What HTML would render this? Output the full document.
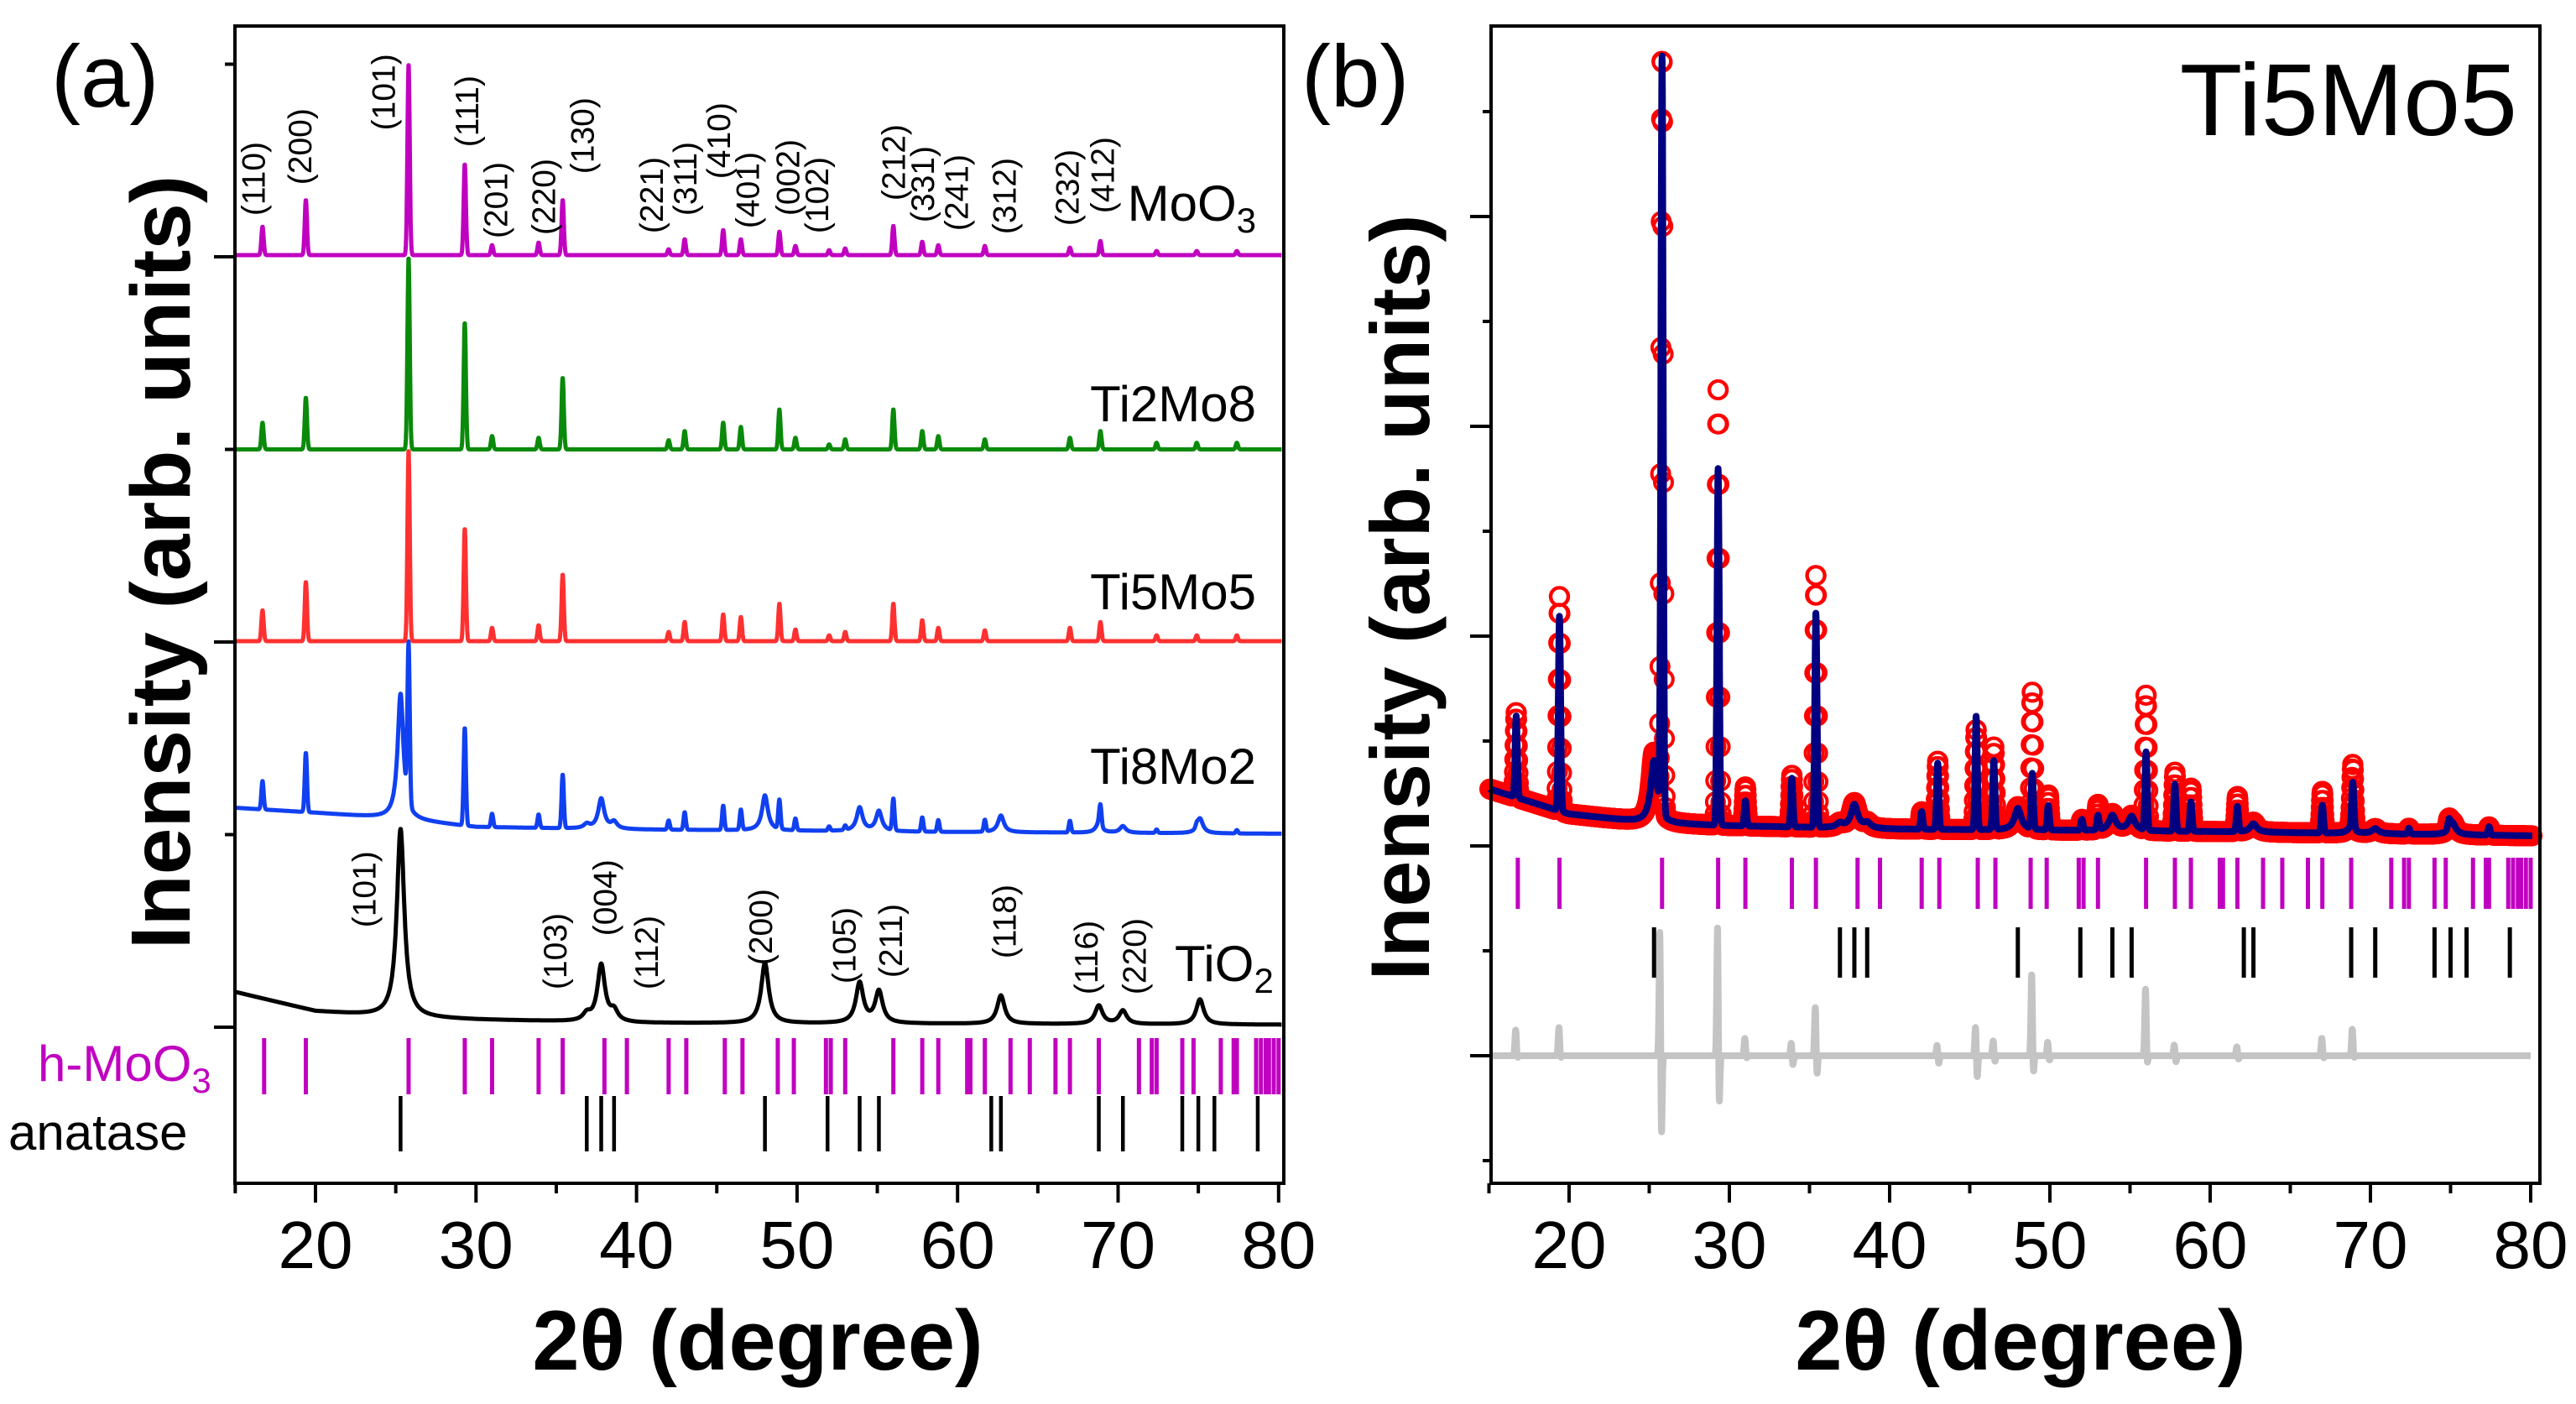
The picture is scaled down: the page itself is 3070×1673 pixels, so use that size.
<!DOCTYPE html>
<html><head><meta charset="utf-8"><style>
html,body{margin:0;padding:0;background:#fff;}
svg{display:block;font-family:"Liberation Sans",Arial,sans-serif;}
</style></head><body>
<svg id="fig" width="3070" height="1673" viewBox="0 0 3070 1673" xmlns="http://www.w3.org/2000/svg">
<rect x="0" y="0" width="3070" height="1673" fill="#fff"/>
<g id="pa"></g>
<g id="pb"></g>
</svg>
<script>
// ---------- DATA ----------
const moPeaks = [16.7,19.4,25.8,29.3,31.0,33.9,35.4,42.0,43.0,45.4,46.5,48.9,49.9,52.0,53.0,56.0,57.8,58.8,61.7,67.0,68.9,72.4,74.9,77.4];
const anPeaks = [25.3,36.9,37.8,38.6,48.0,53.9,55.1,62.7,68.8,70.3,75.1];
const hMoO3Ticks = [16.8,19.4,25.8,29.3,31.0,33.9,35.4,38.0,39.4,42.0,43.1,45.5,46.6,48.8,49.8,51.8,52.1,53.0,56.0,57.8,58.8,60.6,60.8,61.7,63.3,64.5,66.1,67.0,68.8,71.3,72.1,72.4,74.0,74.7,76.4,77.2,77.4,78.6,78.9,79.2,79.4,79.7,80.0];
const anataseTicks = [25.3,36.9,37.8,38.6,48.0,51.9,53.9,55.1,62.1,62.7,68.8,70.3,74.0,75.0,76.0,78.7];
const xTickLabels = [20,30,40,50,60,70,80];
const xMinorTicks = [15,25,35,45,55,65,75];

// panel (a) series (arb. units, 230 per tick)
const moO3Heights   = [34,66,229,109,12,15,66,7,19,30,19,28,11,6,8,35,16,12,11,9,17,5,5,5];
const ti2Mo8Heights = [32,62,230,152,16,14,86,11,22,32,27,48,14,6,12,48,22,16,12,14,22,8,8,8];
const ti5Mo5Heights = [37,71,229,135,16,19,80,11,23,32,29,45,14,7,11,45,25,16,13,16,23,7,7,7];
const ti8Mo2Heights = [34,71,190,117,16,16,64,11,21,29,24,35,14,5,5,38,17,14,14,14,24,4,4,4];
const ti8Mo2Anatase = [150,5,36,8,42,28,24,20,12,8,18];
const tio2Anatase   = [225,8,68,12,72,48,38,34,22,16,30];
const moO3Offset = 922, ti2Mo8Offset = 690, ti5Mo5Offset = 461;
const bgKnotsX = [15,20,25,30,40,60,80];
const ti8Mo2Bg = [262,256,249,239,236,233,231];
const tio2Bg   = [42,19,12,9,5,4,3];

// panel (b) Rietveld
const calcHeights = [97,232,900,425,30,58,255,21,79,135,82,66,29,13,17,93,56,35,30,33,54,7,10,10];
const obsHeights  = [102,258,900,524,47,62,303,21,82,120,99,164,42,13,30,162,71,52,42,50,75,7,10,10];
const calcAnatase = [75,5,28,6,26,18,17,10,8,6,15];
const obsAnatase  = [85,5,30,6,28,20,18,12,9,6,16];
const rietBg = [318,288,277,274,270,267,262];
const resPos  = [16.7,19.4,25.7,29.3,31.0,33.9,35.4,43.0,45.4,46.5,48.9,49.9,56.0,57.8,61.7,67.0,68.9];
const resUp   = [32,35,175,172,22,18,65,15,41,20,105,18,84,15,12,22,33];
const resDown = [5,5,124,83,5,14,32,12,33,10,33,8,17,10,6,5,5];

const hklLabelsA = ["(110)","(200)","(101)","(111)","(201)","(220)","(130)","(221)","(311)","(410)","(401)","(002)","(102)","(212)","(331)","(241)","(312)","(232)","(412)"];
const hklPosA = [16.1,19.0,24.2,29.4,31.2,34.2,36.6,40.9,43.0,45.1,46.9,49.4,51.2,56.0,57.8,59.9,62.9,66.8,69.0];
const hklLevelA = [969,1006,1071,1051,942,946,1019,948,969,1013,954,969,948,987,961,951,947,957,972];
const tioLabels = ["(101)","(103)","(004)","(112)","(200)","(105)","(211)","(118)","(116)","(220)"];
const tioPos = [23.0,34.9,38.0,40.6,47.7,52.9,55.8,62.9,68.0,71.0];
const tioLevel = [119,45,109,45,74,52,59,82,39,39];

// ---------- HELPERS ----------
const NS = "http://www.w3.org/2000/svg";
function mk(parent, tag, attrs, text){
  const e = document.createElementNS(NS, tag);
  for (const k in attrs) e.setAttribute(k, attrs[k]);
  if (text !== undefined) e.textContent = text;
  parent.appendChild(e); return e;
}
const xA = d => 376 + (d-20)*19.13;
const xB = d => 1870 + (d-20)*19.1;
const yA = c => 1224 - c*229.5/230;
const yB = c => 1258 - c*250/250;
function interp(xs, ys, x){
  if (x <= xs[0]) return ys[0];
  for (let i=1;i<xs.length;i++) if (x <= xs[i]) { const t=(x-xs[i-1])/(xs[i]-xs[i-1]); return ys[i-1]+t*(ys[i]-ys[i-1]); }
  return ys[ys.length-1];
}
const gauss = (x,p,s) => Math.exp(-0.5*((x-p)/s)*((x-p)/s));
const lor = (x,p,w) => 1/(1+((x-p)/w)*((x-p)/w));
function profile(x, sharpH, broadH, sig, hw){
  let v = 0;
  if (sharpH) for (let i=0;i<moPeaks.length;i++) if (Math.abs(x-moPeaks[i])<0.6) v += sharpH[i]*gauss(x,moPeaks[i],sig);
  if (broadH) for (let i=0;i<anPeaks.length;i++) v += broadH[i]*lor(x,anPeaks[i],hw);
  return v;
}
function pathFrom(xf, yf, fn, x0, x1, step){
  let d = "";
  for (let x=x0; x<=x1+1e-9; x+=step){ d += (d?"L":"M")+xf(x).toFixed(1)+","+yf(fn(x)).toFixed(1); }
  return d;
}

// ---------- PANEL A ----------
const pa = document.getElementById('pa');
const series = [
  {name:"moo3-trace", color:"#c000c0", fn:x=>moO3Offset+profile(x,moO3Heights,null,0.07,0.3)},
  {name:"ti2mo8-trace", color:"#0a8a0a", fn:x=>ti2Mo8Offset+profile(x,ti2Mo8Heights,null,0.07,0.3)},
  {name:"ti5mo5-trace", color:"#ff3030", fn:x=>ti5Mo5Offset+profile(x,ti5Mo5Heights,null,0.07,0.3)},
  {name:"ti8mo2-trace", color:"#1040f0", fn:x=>interp(bgKnotsX,ti8Mo2Bg,x)+profile(x,ti8Mo2Heights,ti8Mo2Anatase,0.07,0.22)},
  {name:"tio2-trace", color:"#000000", fn:x=>interp(bgKnotsX,tio2Bg,x)+profile(x,null,tio2Anatase,0.07,0.28)}
];
for (let s=series.length-1; s>=0; s--){
  const p = mk(pa,'path',{d:pathFrom(xA,yA,series[s].fn,15.05,80.2,0.02),fill:"none",stroke:series[s].color,"stroke-width":5,"stroke-linejoin":"round"});
  
  
}
hMoO3Ticks.forEach(d=>{
  const l = mk(pa,'line',{x1:xA(d),x2:xA(d),y1:1237,y2:1304,stroke:"#c000c0","stroke-width":5});
  
  
});
anataseTicks.forEach(d=>{
  const l = mk(pa,'line',{x1:xA(d),x2:xA(d),y1:1306,y2:1372,stroke:"#000","stroke-width":4.5});
  
  
});
function rotLabel(parent, xf, d, yBottom, txt, name){
  const x = xf(d) + 14;
  const t = mk(parent,'text',{x:x,y:yBottom,transform:`rotate(-90 ${x} ${yBottom})`,"font-size":39,fill:"#000"},txt);
  
  
}
hklLabelsA.forEach((t,i)=>rotLabel(pa,xA,hklPosA[i],yA(hklLevelA[i]),t,'moo3-hkl-label'));
tioLabels.forEach((t,i)=>rotLabel(pa,xA,tioPos[i],yA(tioLevel[i]),t,'anatase-hkl-label'));

function frame(parent, left, right, top, bottom, name){
  const r = mk(parent,'rect',{x:left,y:top,width:right-left,height:bottom-top,fill:"none",stroke:"#000","stroke-width":4});
  
  
}
frame(pa,280,1530,31,1410,'plot-frame-a');
function xAxis(parent, xf){
  xTickLabels.forEach(v=>{
    const l = mk(parent,'line',{x1:xf(v),x2:xf(v),y1:1410,y2:1433,stroke:"#000","stroke-width":4});
    
    
    const t = mk(parent,'text',{x:xf(v),y:1511,"font-size":80,"text-anchor":"middle",fill:"#000"},String(v));
    
    
  });
  xMinorTicks.forEach(v=>{
    const l = mk(parent,'line',{x1:xf(v),x2:xf(v),y1:1410,y2:1422,stroke:"#000","stroke-width":4});
    
    
  });
}
xAxis(pa,xA);
[0,230,460,690,920,1150].forEach(c=>{
  const len = (c%460===0)?25:12;
  const l = mk(pa,'line',{x1:280-len,x2:280,y1:yA(c),y2:yA(c),stroke:"#000","stroke-width":4});
  
  
});

// ---------- PANEL B ----------
const pb = document.getElementById('pb');
const calcFn = x=>interp(bgKnotsX,rietBg,x)+profile(x,calcHeights,calcAnatase,0.07,0.25);
const obsFn  = x=>interp(bgKnotsX,rietBg,x)+profile(x,obsHeights,obsAnatase,0.07,0.25);
const resFn  = x=>{ let v=0; for(let i=0;i<resPos.length;i++){ if(Math.abs(x-resPos[i])<0.6){ v+=resUp[i]*gauss(x,resPos[i]-0.03,0.05)-resDown[i]*gauss(x,resPos[i]+0.05,0.05);} } return v; };
const rp = mk(pb,'path',{d:pathFrom(xB,yB,resFn,15.05,80.0,0.01),fill:"none",stroke:"#c4c4c4","stroke-width":8,"stroke-linejoin":"round"});


const og = mk(pb,'g',{fill:"none",stroke:"#ff0000","stroke-width":4});


for (let x=15.05; x<=80.1; x+=0.02){
  mk(og,'circle',{cx:xB(x).toFixed(1),cy:yB(obsFn(x)).toFixed(1),r:10.5});
}
const cp = mk(pb,'path',{d:pathFrom(xB,yB,calcFn,15.05,80.1,0.01),fill:"none",stroke:"#000080","stroke-width":8,"stroke-linejoin":"round"});


hMoO3Ticks.forEach(d=>{
  const l = mk(pb,'line',{x1:xB(d),x2:xB(d),y1:1022,y2:1083,stroke:"#c000c0","stroke-width":5});
  
  
});
anataseTicks.forEach(d=>{
  const l = mk(pb,'line',{x1:xB(d),x2:xB(d),y1:1105,y2:1165,stroke:"#000","stroke-width":5});
  
  
});
frame(pb,1777,3027,31,1410,'plot-frame-b');
xAxis(pb,xB);
for (let c=-125; c<=1125; c+=125){
  const len = (c%250===0)?25:10;
  const l = mk(pb,'line',{x1:1777-len,x2:1777,y1:yB(c),y2:yB(c),stroke:"#000","stroke-width":4});
  
  
}
</script>
<svg width="3070" height="1673" viewBox="0 0 3070 1673" style="position:absolute;left:0;top:0" xmlns="http://www.w3.org/2000/svg" font-family="Liberation Sans, Arial, sans-serif">
<text x="61" y="127" font-size="105">(a)</text>
<text x="1551" y="127" font-size="105">(b)</text>
<text x="1497" y="263" font-size="60" text-anchor="end">MoO<tspan font-size="42" dy="14">3</tspan></text>
<text x="1497" y="502" font-size="60" text-anchor="end">Ti2Mo8</text>
<text x="1497" y="726" font-size="60" text-anchor="end">Ti5Mo5</text>
<text x="1497" y="934" font-size="60" text-anchor="end">Ti8Mo2</text>
<text x="1400" y="1169" font-size="60">TiO<tspan font-size="42" dy="14">2</tspan></text>
<text x="45" y="1288" font-size="60" fill="#c000c0">h-MoO<tspan font-size="42" dy="14">3</tspan></text>
<text x="10" y="1370" font-size="60">anatase</text>
<text x="3000" y="161" font-size="122" text-anchor="end">Ti5Mo5</text>
<text transform="rotate(-90 226 670)" x="226" y="670" font-size="100" font-weight="bold" text-anchor="middle">Inensity (arb. units)</text>
<text transform="rotate(-90 1703 712)" x="1703" y="712" font-size="99" font-weight="bold" text-anchor="middle">Inensity (arb. units)</text>
<text x="903" y="1632" font-size="101" font-weight="bold" text-anchor="middle">2θ (degree)</text>
<text x="2408" y="1632" font-size="101" font-weight="bold" text-anchor="middle">2θ (degree)</text>
</svg>
</body></html>
